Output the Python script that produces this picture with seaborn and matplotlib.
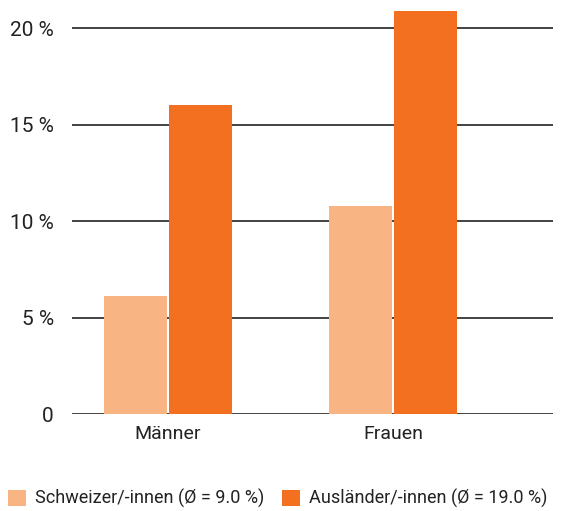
import numpy as np
import pandas as pd
import matplotlib.pyplot as plt
import seaborn as sns

# Daten
groups = ['Männer', 'Frauen']
series = ['Schweizer/-innen (Ø = 9.0 %)', 'Ausländer/-innen (Ø = 19.0 %)']
schweizer = [6.1, 10.8]
auslaender = [16.0, 20.9]
yticks = [0, 5, 10, 15, 20]
ytick_labels = ['0', '5 %', '10 %', '15 %', '20 %']

colors = ['#F9B483', '#F37021']

df = pd.DataFrame({
    'Gruppe': groups * 2,
    'Serie': [series[0]] * 2 + [series[1]] * 2,
    'Wert': schweizer + auslaender,
})

sns.set_theme(style='white')
plt.rcParams['font.family'] = ['Roboto', 'DejaVu Sans']

fig = plt.figure(figsize=(5.7, 5.11), dpi=100)
# 21 Einheiten = 405 px, Null bei y=414
ax = fig.add_axes([72 / 570, 1 - 414 / 511, (553 - 72) / 570, 405.3 / 511])

sns.barplot(data=df, x='Gruppe', y='Wert', hue='Serie', palette=colors,
            width=0.58, gap=0.03, saturation=1, ax=ax, legend=True)

for b in ax.patches:
    b.set_edgecolor('none')

ax.set_ylim(0, 21)
ax.set_xlim(-0.427, 1.711)
ax.set_yticks(yticks)
ax.set_yticklabels(ytick_labels)
ax.set_xlabel('')
ax.set_ylabel('')
for y in yticks:
    ax.axhline(y, color='#222222', lw=1.2, zorder=0)
sns.despine(ax=ax, left=True, bottom=True, top=True, right=True)
ax.tick_params(axis='y', length=0, pad=13, labelsize=15, colors='#222222')
ax.tick_params(axis='x', length=0, pad=8, labelsize=14, colors='#222222')

ax.legend(loc='lower left', bbox_to_anchor=(-64 / 481, -0.232), ncol=2, frameon=False,
          fontsize=13, handlelength=1.0, handleheight=1.0, handletextpad=0.5,
          columnspacing=1.0, borderaxespad=0, borderpad=0, labelcolor='#222222')

fig.savefig('out.png', dpi=100)
